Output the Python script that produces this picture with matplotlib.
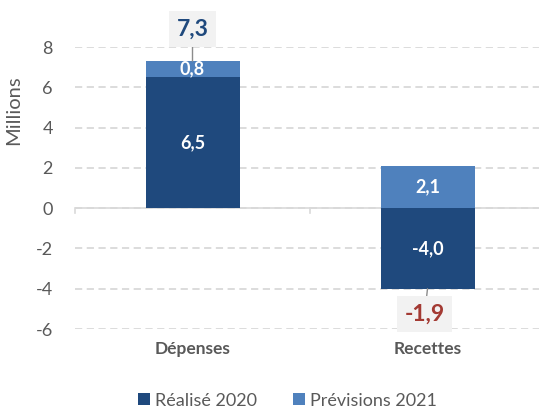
import matplotlib.pyplot as plt
import numpy as np

plt.rcParams['font.family'] = ['Lato', 'DejaVu Sans']
plt.rcParams['axes.unicode_minus'] = False

categories = ["Dépenses", "Recettes"]
realise_2020 = [6.5, -4.0]
previsions_2021 = [0.8, 2.1]
series_names = ["Réalisé 2020", "Prévisions 2021"]

dark = "#1F497D"
light = "#4F81BD"
grey = "#595959"
grid = "#D9D9D9"

fig = plt.figure(figsize=(5.39, 4.09), dpi=100)
ax = fig.add_axes([75 / 539, 1 - 329 / 409, 470 / 539, 282 / 409])

x = np.arange(len(categories))
w = 0.4
real = np.array(realise_2020)
prev = np.array(previsions_2021)

# previsions stack on top of a positive bar, start from 0 when the bar is negative
prev_base = np.where(real > 0, real, 0)
ax.bar(x, real, w, color=dark, label=series_names[0], zorder=3)
ax.bar(x, prev, w, bottom=prev_base, color=light, label=series_names[1], zorder=3)

fmt = lambda v: ("%.1f" % v).replace(".", ",")
for i in x:
    ax.text(i, real[i] / 2, fmt(real[i]), ha="center", va="center",
            color="white", fontsize=13, fontweight="bold", zorder=4)
    ax.text(i, prev_base[i] + prev[i] / 2, fmt(prev[i]), ha="center", va="center",
            color="white", fontsize=13, fontweight="bold", zorder=4)

# totals in boxes with a leader line
totals = real + prev
for i in x:
    t = totals[i]
    if t >= 0:
        anchor = prev_base[i] + prev[i]
        off = (0, 23)
        col = dark
    else:
        anchor = real[i]
        off = (-2, -18)
        col = "#A33A33"
    ax.annotate(fmt(t), xy=(i, anchor), xytext=off, textcoords="offset points",
                ha="center", va="center", fontsize=16.5, fontweight="bold", color=col,
                bbox=dict(boxstyle="square,pad=0.32", fc="#F2F2F2", ec="none"),
                arrowprops=dict(arrowstyle="-", color="#8C8C8C", lw=1,
                                shrinkA=0, shrinkB=0),
                zorder=5, annotation_clip=False)

ax.set_xlim(-0.5, 1.5)
ax.set_ylim(-6, 8)
ax.set_yticks(range(-6, 9, 2))
ax.yaxis.grid(True, color=grid, linestyle=(0, (4, 2.5)), linewidth=1.3, zorder=0)
ax.set_axisbelow(True)
for s in ax.spines.values():
    s.set_visible(False)
ax.tick_params(axis="y", length=0, labelsize=13, labelcolor=grey, pad=16)
ax.set_ylabel("Millions", fontsize=14.5, color=grey)
ax.yaxis.set_label_coords(-0.113, 0.777)

# zero line with category separators
ax.axhline(0, color=grid, lw=1.2, zorder=2)
for b in [-0.5, 0.5, 1.5]:
    ax.plot([b, b], [0, -0.25], color=grid, lw=1.2, clip_on=False, zorder=2)

ax.set_xticks([])
for i, c in enumerate(categories):
    ax.text(i, -6.6, c, ha="center", va="top",
            fontsize=12.5, fontweight="bold", color=grey)

ax.legend(loc="lower center", bbox_to_anchor=(0.5 - 0.048, -0.34), ncol=2,
          frameon=False, fontsize=13, labelcolor=grey, handlelength=0.65,
          handleheight=0.65, handletextpad=0.3, columnspacing=2.0)

fig.savefig("out.png", dpi=100)
